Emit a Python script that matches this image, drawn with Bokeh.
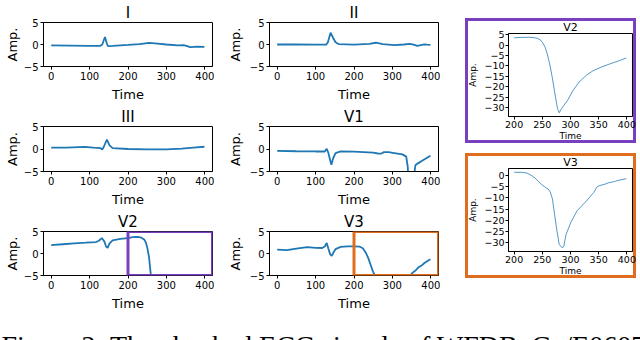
import numpy as np
from bokeh.plotting import figure
from bokeh.layouts import column, row
from bokeh.models import Range1d, FixedTicker, CustomJSTickFormatter, BoxAnnotation, Spacer
from bokeh.core.properties import value
from bokeh.embed import file_html
from bokeh.resources import INLINE

FONT = "DejaVu Sans"
LINE = "#1f77b4"
PURPLE = "#7840BE"
ORANGE = "#E06C1E"

# ---- data (time index, amplitude) ----
t_I = [0, 50, 100, 128, 133, 140, 145, 148, 160, 200, 230, 255, 270, 300, 330, 345, 352, 362, 380, 399]
amp_I = [-0.2, -0.25, -0.3, -0.3, 0.0, 1.7, 0.2, -0.35, -0.3, -0.1, 0.1, 0.35, 0.25, 0.0, -0.2, -0.15, -0.3, -0.6, -0.5, -0.55]

t_II = [0, 50, 100, 128, 132, 139, 145, 152, 160, 200, 240, 257, 275, 305, 330, 345, 355, 365, 383, 390, 399]
amp_II = [0.0, 0.0, -0.05, 0.0, 0.5, 2.7, 1.6, 0.5, 0.1, -0.05, 0.15, 0.4, 0.1, -0.15, 0.0, 0.15, -0.05, -0.3, 0.05, -0.05, -0.1]

t_III = [0, 40, 87, 110, 128, 133, 137, 145, 152, 160, 200, 250, 300, 340, 370, 399]
amp_III = [0.3, 0.3, 0.45, 0.3, 0.2, -0.1, 0.5, 2.1, 0.8, 0.2, 0.0, -0.1, -0.1, 0.1, 0.3, 0.5]

t_V1 = [0, 50, 100, 124, 129, 133, 141, 146, 152, 165, 200, 250, 262, 270, 278, 290, 305, 326, 336, 340, 344, 350, 353, 356, 360, 364, 374, 399]
amp_V1 = [-0.4, -0.5, -0.55, -0.55, 0.05, -0.8, -3.5, -2.0, -0.9, -0.55, -0.6, -0.8, -1.0, -1.05, -0.7, -0.7, -0.9, -1.2, -1.7, -4.0, -12.0, -25.0, -20.0, -6.0, -3.6, -3.3, -2.8, -1.5]

t_V2 = [0, 30, 60, 90, 117, 124, 132, 138, 143, 147, 152, 160, 180, 200, 212, 225, 235, 242, 247, 251, 255, 259, 263, 268, 273, 277, 280, 283, 288, 295, 304, 315, 328, 340, 355, 370, 385, 399]
amp_V2 = [1.9, 2.1, 2.3, 2.45, 2.6, 2.9, 3.5, 2.8, 1.6, 1.3, 2.3, 3.0, 3.3, 3.5, 3.7, 3.8, 3.6, 3.2, 2.4, 1.0, -1.0, -4.5, -9.0, -16.0, -24.5, -30.5, -32.5, -31.0, -29.0, -26.5, -22.0, -17.8, -14.5, -12.3, -10.5, -9.0, -7.6, -6.2]

t_V3 = [0, 25, 50, 78, 100, 117, 124, 129, 133, 138, 142, 147, 152, 165, 183, 200, 215, 223, 230, 237, 243, 249, 256, 260, 264, 268, 272, 276, 280, 285, 288, 292, 301, 312, 326, 341, 347, 352, 361, 367, 378, 384, 399]
amp_V3 = [0.9, 0.75, 1.1, 1.45, 1.3, 1.25, 1.6, 2.4, 1.2, -0.2, -0.55, 0.3, 1.0, 1.5, 1.6, 1.6, 1.55, 1.2, 0.3, -1.0, -2.5, -4.0, -5.3, -5.9, -7.3, -10.5, -17.9, -25.0, -31.0, -32.5, -32.0, -26.6, -20.8, -15.7, -12.0, -7.6, -5.0, -4.4, -3.8, -3.2, -2.6, -2.1, -1.3]

time_ticks = [0, 100, 200, 300, 400]
amp_ticks = [-5, 0, 5]
time_range = [-20, 420]
amp_range = [-5, 5]

zoom_window = [200, 420]
zoom_time_range = [190, 410]
zoom_time_ticks = [200, 250, 300, 350, 400]
zoom_v2_range = [-34.3, 5.6]
zoom_v2_ticks = [5, 0, -5, -10, -15, -20, -25, -30]
zoom_v3_range = [-34.2, 3.3]
zoom_v3_ticks = [0, -5, -10, -15, -20, -25, -30]

caption = "Figure 2: The checked ECG signals of WFDB_Ga/E06072"

minus_fmt = "return tick < 0 ? '\\u2212' + Math.abs(tick) : '' + tick;"


def style_axes(p, xticks, yticks, tick_size, label_size, xstand, ystand, lab_stand):
    p.xgrid.visible = False
    p.ygrid.visible = False
    p.outline_line_color = "black"
    p.outline_line_alpha = 1
    p.outline_line_width = 1
    p.xaxis.ticker = FixedTicker(ticks=xticks)
    p.yaxis.ticker = FixedTicker(ticks=yticks)
    for ax in (p.xaxis[0], p.yaxis[0]):
        ax.formatter = CustomJSTickFormatter(code=minus_fmt)
        ax.axis_line_color = "black"
        ax.major_tick_line_color = "black"
        ax.major_tick_out = 3
        ax.major_tick_in = 0
        ax.minor_tick_out = 0
        ax.minor_tick_in = 0
        ax.major_label_text_font = FONT
        ax.major_label_text_font_size = tick_size
        ax.major_label_text_color = "black"
        ax.major_label_standoff = lab_stand
        ax.axis_label_text_font = FONT
        ax.axis_label_text_font_size = label_size
        ax.axis_label_text_font_style = "normal"
        ax.axis_label_text_color = "black"
    p.xaxis.axis_label = "Time"
    p.yaxis.axis_label = "Amp."
    p.xaxis.axis_label_standoff = xstand
    p.yaxis.axis_label_standoff = ystand


def small_panel(name, t, a, width, height, left, right, top, bottom, ystand, box_color=None):
    p = figure(width=width, height=height, title=name,
               x_range=Range1d(*time_range), y_range=Range1d(*amp_range),
               toolbar_location=None, output_backend="svg",
               min_border_left=left, min_border_right=right,
               min_border_top=top, min_border_bottom=bottom)
    p.title.align = "center"
    p.title.text_font = FONT
    p.title.text_font_size = "15px"
    p.title.text_font_style = "normal"
    p.title.text_color = "black"
    p.title.standoff = 2
    style_axes(p, time_ticks, amp_ticks, "10px", "13px", 4, ystand, 2)
    p.line(t, a, line_color=LINE, line_width=1.8)
    if box_color is not None:
        p.add_layout(BoxAnnotation(left=zoom_window[0], right=zoom_window[1],
                                   bottom=amp_range[0], top=amp_range[1],
                                   fill_alpha=0, line_color=box_color,
                                   line_alpha=1, line_width=3))
    return p


def zoom_panel(name, t, a, yr, yticks, color, bottom):
    t = np.array(t, dtype=float)
    a = np.array(a, dtype=float)
    keep = t >= zoom_window[0]
    p = figure(width=171, height=125, title=name,
               x_range=Range1d(*zoom_time_range), y_range=Range1d(*yr),
               toolbar_location=None, output_backend="svg",
               min_border_left=38, min_border_right=4,
               min_border_top=15, min_border_bottom=bottom)
    p.border_fill_color = None
    p.background_fill_color = None
    p.styles = {"outline": f"3px solid {color}", "outline-offset": "-3px"}
    p.title.align = "center"
    p.title.text_font = FONT
    p.title.text_font_size = "11px"
    p.title.text_font_style = "normal"
    p.title.text_color = "black"
    p.title.standoff = 0
    style_axes(p, zoom_time_ticks, yticks, "9.5px", "9px", 0, 3, 1)
    p.line(t[keep], a[keep], line_color=LINE, line_width=0.9, line_alpha=0.85)
    return p


H1, H2, H3 = 104, 105, 104
W1, W2 = 222, 228

pI = small_panel("I", t_I, amp_I, W1, H1, 43, 10, 20, 36, 1)
pIII = small_panel("III", t_III, amp_III, W1, H2, 43, 10, 21, 36, 1)
pV2 = small_panel("V2", t_V2, amp_V2, W1, H3, 43, 10, 20, 36, 1, PURPLE)

pII = small_panel("II", t_II, amp_II, W2, H1, 47, 12, 20, 36, 4)
pV1 = small_panel("V1", t_V1, amp_V1, W2, H2, 47, 12, 21, 36, 4)
pV3 = small_panel("V3", t_V3, amp_V3, W2, H3, 47, 12, 20, 36, 4, ORANGE)

zV2 = zoom_panel("V2", t_V2, amp_V2, zoom_v2_range, zoom_v2_ticks, PURPLE, 26)
zV3 = zoom_panel("V3", t_V3, amp_V3, zoom_v3_range, zoom_v3_ticks, ORANGE, 25)

col1 = column(pI, pIII, pV2)
col2 = column(pII, pV1, pV3)
col3 = row(Spacer(width=15, height=313),
           column(Spacer(width=171, height=18), zV2,
                  Spacer(width=171, height=10), zV3,
                  Spacer(width=171, height=35)))

cap = figure(width=640, height=27, title=None,
             x_range=Range1d(0, 640), y_range=Range1d(0, 27),
             toolbar_location=None, output_backend="svg", min_border=0)
cap.axis.visible = False
cap.grid.visible = False
cap.outline_line_color = None
cap.text(x=[1], y=[11], text=[caption], text_baseline="top", text_align="left",
         text_font=value("Liberation Serif"), text_font_size="28px", text_color="black")

layout = column(row(col1, col2, col3), cap)

open("out.html", "w").write(file_html(layout, INLINE))
